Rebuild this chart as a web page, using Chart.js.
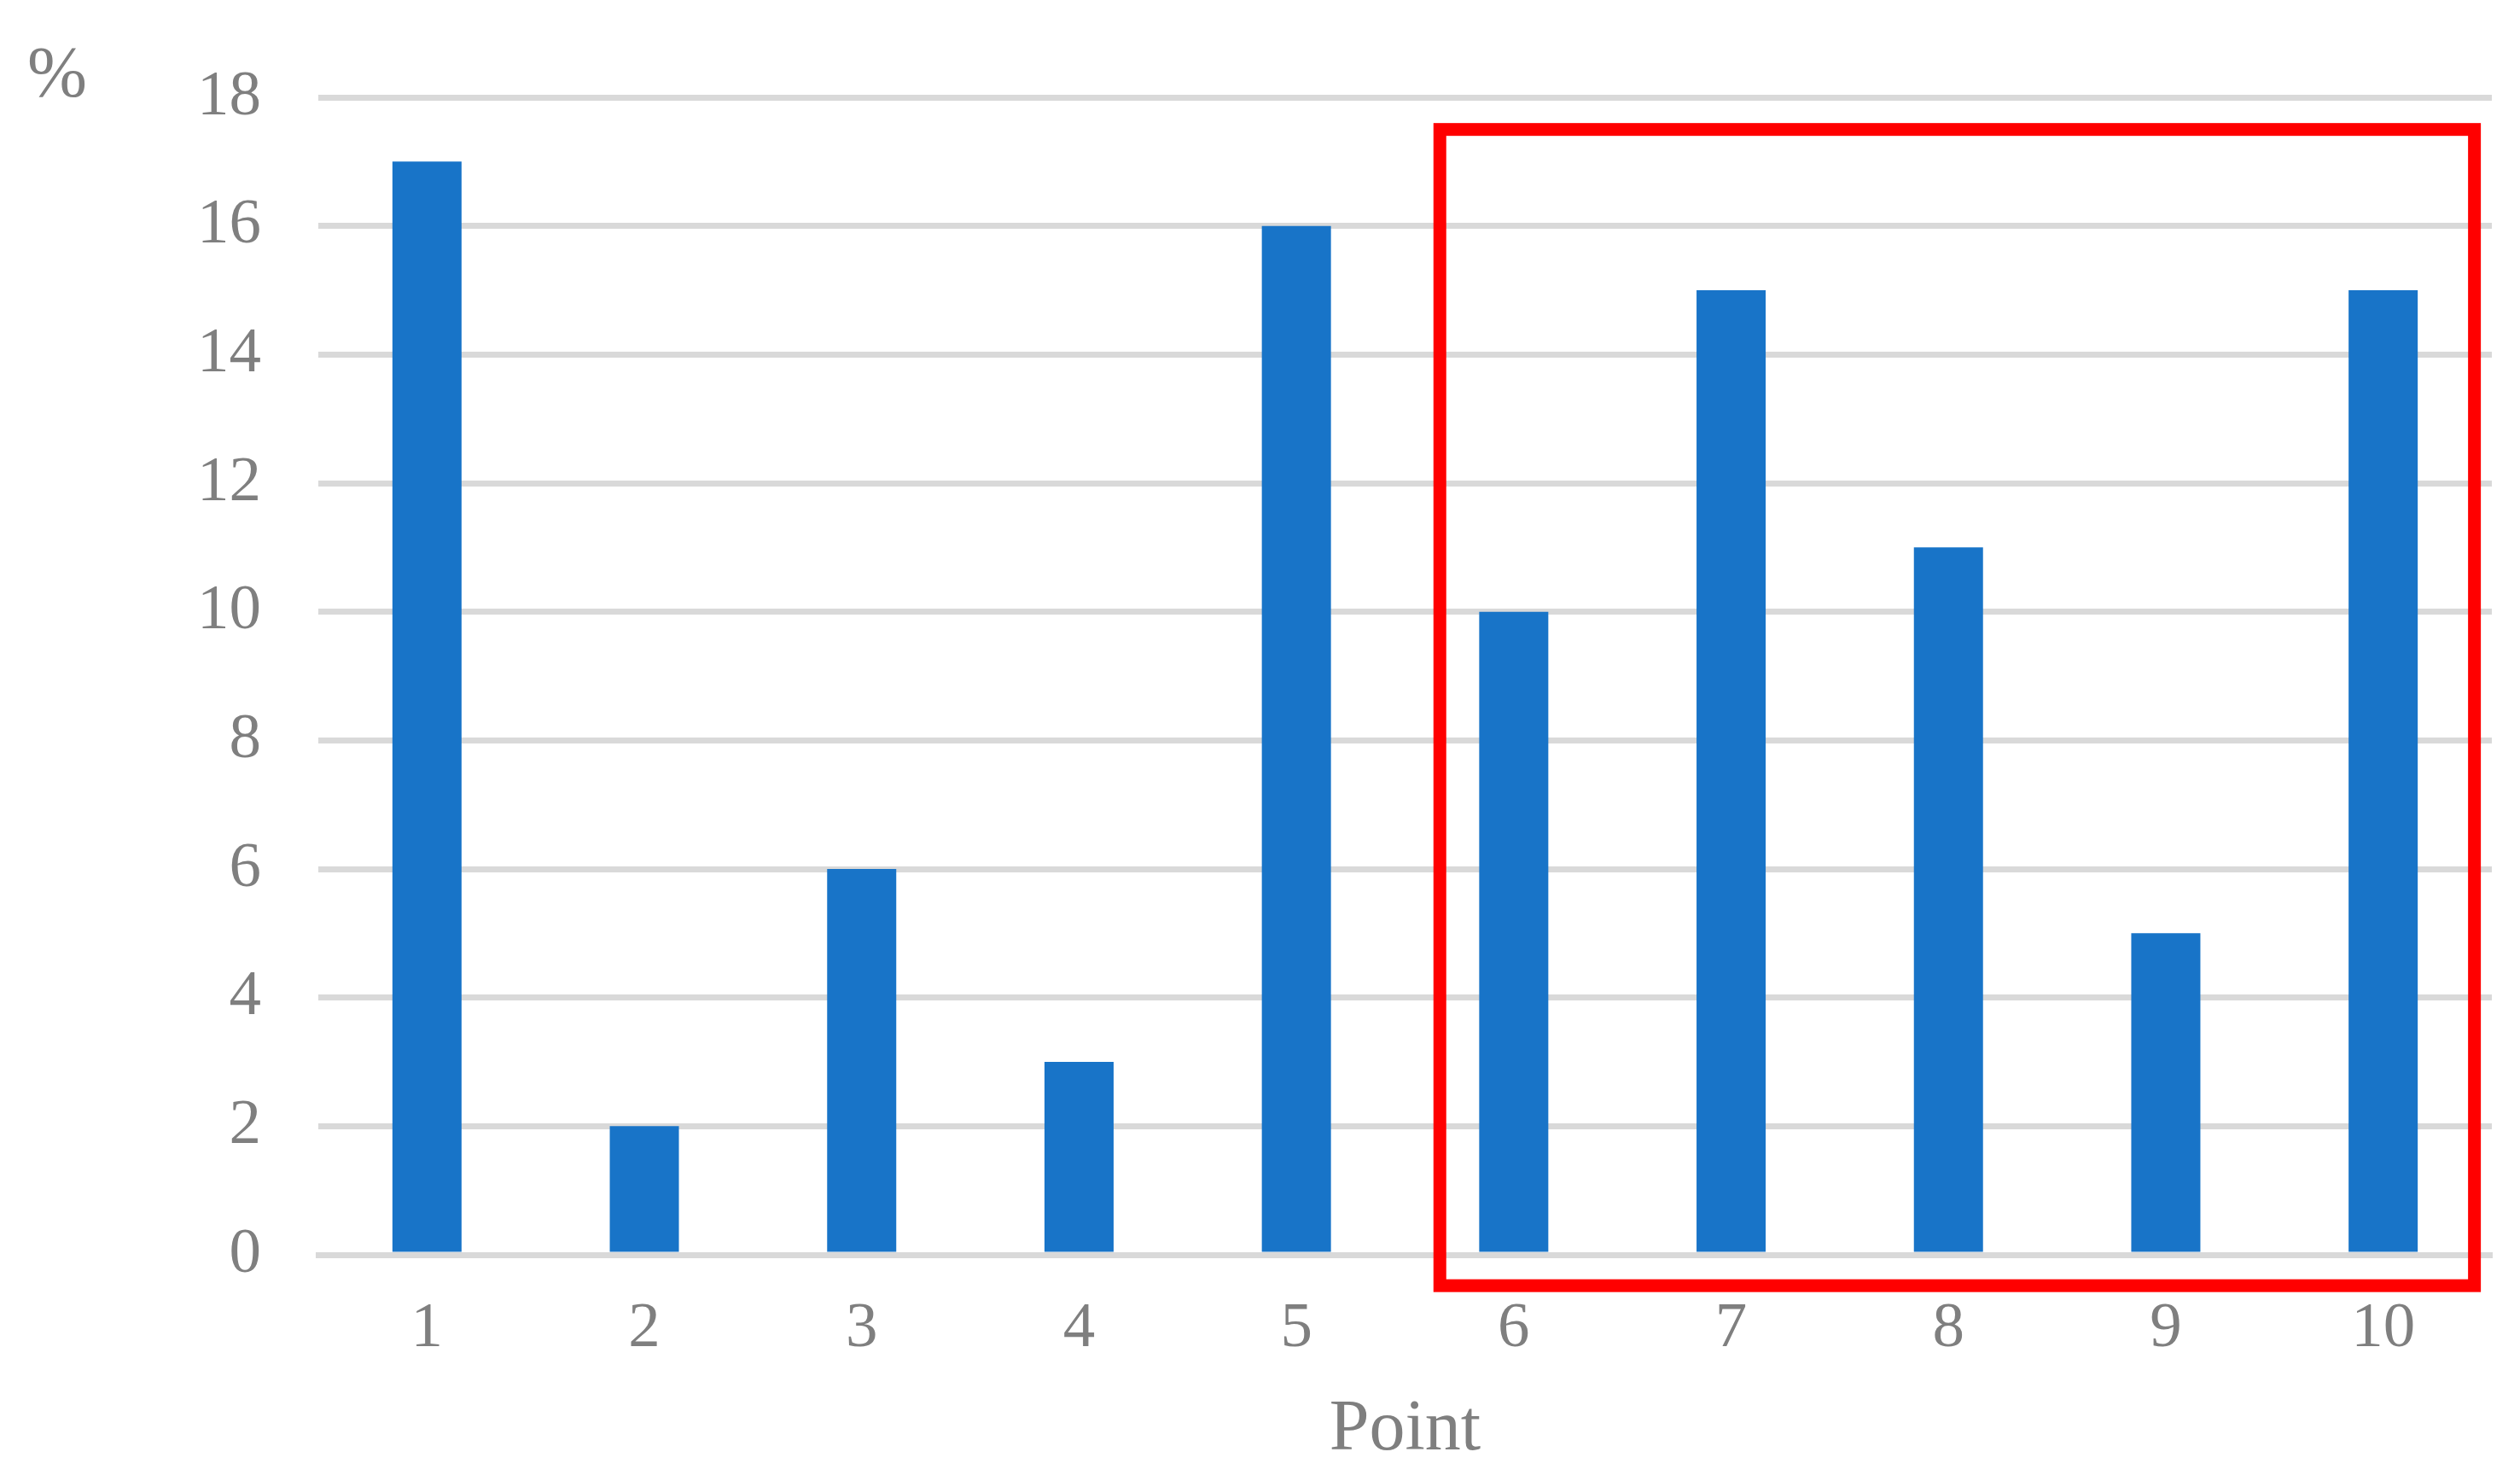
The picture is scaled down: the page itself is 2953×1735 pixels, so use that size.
<!DOCTYPE html>
<html>
<head>
<meta charset="utf-8">
<title>Point chart</title>
<script src="https://cdn.jsdelivr.net/npm/chart.js@4/dist/chart.umd.min.js"></script>
<style>
  html, body { margin: 0; padding: 0; background: #fff; }
  #wrap { width: 2953px; height: 1735px; }
</style>
</head>
<body>
<div id="wrap"><canvas id="pointChart" width="2953" height="1735"></canvas></div>
<script>
// Chart data
const categories = ['1', '2', '3', '4', '5', '6', '7', '8', '9', '10'];
const values = [17, 2, 6, 3, 16, 10, 15, 11, 5, 15];
const yTicks = [0, 2, 4, 6, 8, 10, 12, 14, 16, 18];
const unitLabel = '%';
const xTitle = 'Point';

// highlighted block (category index / value units)
const highlightX = [4.66, 9.42];
const highlightY = [-0.48, 17.5];

const TEXT_COLOR = '#7f7f7f';
const GRID_COLOR = '#d9d9d9';
const BAR_COLOR = '#1874c8';
const FONT = 'Liberation Serif';

// Draws the "%" unit text top left, and the red box over points 6-10
const overlayPlugin = {
  id: 'overlay',
  afterDraw: function(chart) {
    const ctx = chart.ctx;
    const xs = chart.scales.x;
    const ys = chart.scales.y;
    ctx.save();

    ctx.font = '84px "' + FONT + '"';
    ctx.fillStyle = TEXT_COLOR;
    ctx.textBaseline = 'alphabetic';
    ctx.textAlign = 'left';
    ctx.fillText(unitLabel, 32, 113);

    const x1 = xs.getPixelForValue(highlightX[0]);
    const x2 = xs.getPixelForValue(highlightX[1]);
    const y1 = ys.getPixelForValue(highlightY[1]);
    const y2 = ys.getPixelForValue(highlightY[0]);
    ctx.strokeStyle = '#ff0000';
    ctx.lineWidth = 15;
    ctx.lineJoin = 'miter';
    ctx.strokeRect(x1, y1, x2 - x1, y2 - y1);

    ctx.restore();
  }
};

new Chart(document.getElementById('pointChart').getContext('2d'), {
  type: 'bar',
  data: {
    labels: categories,
    datasets: [{
      data: values,
      backgroundColor: BAR_COLOR,
      borderWidth: 0,
      categoryPercentage: 1,
      barPercentage: 0.318
    }]
  },
  options: {
    responsive: false,
    animation: false,
    devicePixelRatio: 1,
    layout: { padding: { left: 0, top: 114, right: 33, bottom: 0 } },
    plugins: {
      legend: { display: false },
      tooltip: { enabled: false }
    },
    scales: {
      x: {
        grid: { display: false, drawTicks: false, tickLength: 0 },
        border: { display: true, color: GRID_COLOR, width: 7, z: 1 },
        ticks: {
          color: TEXT_COLOR,
          font: { family: FONT, size: 75 },
          padding: 42,
          maxRotation: 0
        },
        title: {
          display: true,
          text: xTitle,
          color: TEXT_COLOR,
          font: { family: FONT, size: 84 },
          padding: { top: 0, bottom: 9 }
        },
        afterFit: function(scale) { scale.height = 265; }
      },
      y: {
        min: 0,
        max: 18,
        afterBuildTicks: function(scale) {
          scale.ticks = yTicks.map(v => ({ value: v }));
        },
        grid: { color: GRID_COLOR, lineWidth: 7, drawTicks: false, tickLength: 0 },
        border: { display: false },
        ticks: {
          color: TEXT_COLOR,
          font: { family: FONT, size: 75 },
          padding: 67
        },
        afterFit: function(scale) { scale.width = 373; }
      }
    }
  },
  plugins: [overlayPlugin]
});
</script>
</body>
</html>
